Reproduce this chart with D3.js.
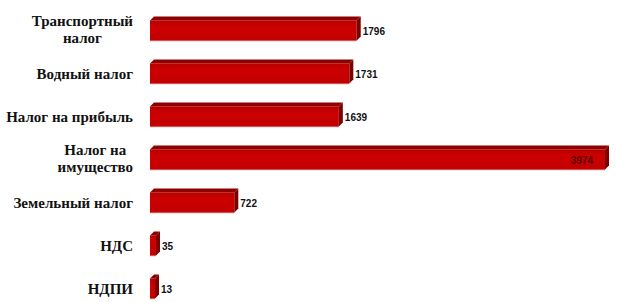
<!DOCTYPE html>
<html>
<head>
<meta charset="utf-8">
<script src="https://cdn.jsdelivr.net/npm/d3@7"></script>
<style>
  html, body { margin: 0; padding: 0; background: #fff; }
  svg { display: block; }
  .cat { font-family: "Liberation Serif", "Times New Roman", serif; font-weight: bold; font-size: 15px; }
  .val { font-family: "Liberation Sans", Arial, sans-serif; font-weight: bold; font-size: 10px; }
</style>
</head>
<body>
<div id="root"></div>
<script>
const categories = [
  ["Транспортный", "налог"],
  ["Водный налог"],
  ["Налог на прибыль"],
  ["Налог на", "имущество"],
  ["Земельный налог"],
  ["НДС"],
  ["НДПИ"],
];
const values = [1796, 1731, 1639, 3974, 722, 35, 13];

const width = 618;
const height = 302;
const depth = 4;

const svg = d3
  .select("#root")
  .append("svg")
  .attr("width", width)
  .attr("height", height);

const defs = svg.append("defs");
const frontGrad = defs
  .append("linearGradient")
  .attr("id", "front")
  .attr("x1", 0).attr("y1", 0).attr("x2", 0).attr("y2", 1);
frontGrad.append("stop").attr("offset", "0%").attr("stop-color", "#b80000");
frontGrad.append("stop").attr("offset", "35%").attr("stop-color", "#cc0000");
frontGrad.append("stop").attr("offset", "100%").attr("stop-color", "#c20000");

const keys = categories.map((c) => c.join(" "));

const x = d3.scaleLinear().domain([0, 3974]).range([152, 605]);
const y = d3
  .scaleBand()
  .domain(keys)
  .range([9, 310])
  .paddingInner(0.53)
  .paddingOuter(0.265);

const minW = 5;
const rows = svg
  .append("g")
  .selectAll("g")
  .data(values.map((v, i) => ({ key: keys[i], lines: categories[i], value: v })))
  .join("g")
  .attr("transform", (d) => `translate(0, ${y(d.key)})`);

const h = y.bandwidth();
const x0 = 150;
const x1 = (d) => Math.max(x(d.value), x0 + minW);

// faint shadow under bars
rows
  .append("rect")
  .attr("x", x0)
  .attr("y", h - 1)
  .attr("width", (d) => x1(d) - x0)
  .attr("height", 2)
  .attr("fill", "#e6d6d6");

// top face
rows
  .append("path")
  .attr("d", (d) => `M${x0},0L${x0 + depth},${-depth}L${x1(d) + depth},${-depth}L${x1(d)},0Z`)
  .attr("fill", "#8e0000");

// front face
rows
  .append("rect")
  .attr("x", x0)
  .attr("y", 0)
  .attr("width", (d) => x1(d) - x0)
  .attr("height", h)
  .attr("fill", "url(#front)");

// side face
rows
  .append("path")
  .attr("d", (d) => `M${x1(d)},0L${x1(d) + depth},${-depth}L${x1(d) + depth},${h - depth}L${x1(d)},${h}Z`)
  .attr("fill", "#7c0000");

// value labels
rows
  .append("text")
  .attr("class", "val")
  .attr("x", (d) => (d.value > 3000 ? x1(d) - 12 : x1(d) + depth + 2))
  .attr("y", h / 2 + 2)
  .attr("dominant-baseline", "middle")
  .attr("text-anchor", (d) => (d.value > 3000 ? "end" : "start"))
  .attr("fill", (d) => (d.value > 3000 ? "#5a0000" : "#111"))
  .text((d) => d.value);

// category labels (centred block, right edge at 133)
const labels = rows
  .append("text")
  .attr("class", "cat")
  .attr("fill", "#111");

labels.each(function (d) {
  const t = d3.select(this);
  const n = d.lines.length;
  const lineH = 17;
  const cy = h / 2 + (n === 1 ? 2 : 1);
  d.lines.forEach((line, i) => {
    t.append("tspan")
      .attr("y", cy + (i - (n - 1) / 2) * lineH)
      .attr("dominant-baseline", "middle")
      .text(line);
  });
});

labels.each(function () {
  const t = d3.select(this);
  const tspans = t.selectAll("tspan").nodes();
  const widths = tspans.map((s) => s.getComputedTextLength());
  const wMax = d3.max(widths);
  const cx = 133 - wMax / 2;
  tspans.forEach((s) => d3.select(s).attr("x", cx).attr("text-anchor", "middle"));
});
</script>
</body>
</html>
